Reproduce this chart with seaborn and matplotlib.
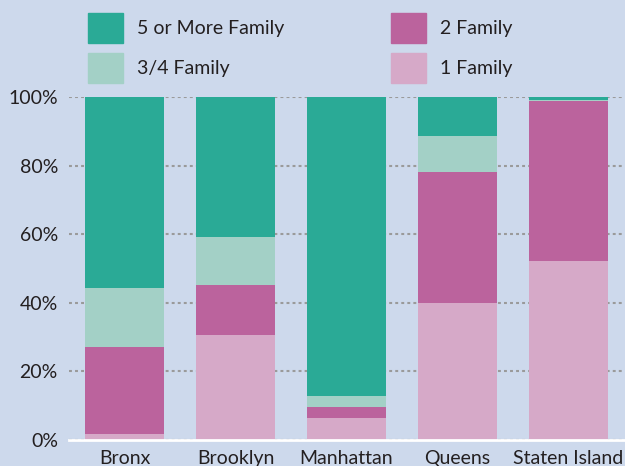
import pandas as pd
import seaborn as sns
import matplotlib.pyplot as plt
from matplotlib.patches import Patch

# Share of housing units by building type, per borough (%)
boroughs = ['Bronx', 'Brooklyn', 'Manhattan', 'Queens', 'Staten Island']
one_family = [1.8, 30.6, 6.4, 40.0, 52.2]
two_family = [25.3, 14.6, 3.2, 38.1, 46.5]
three_four_family = [17.2, 14.0, 3.2, 10.5, 0.3]
five_plus_family = [55.7, 40.8, 87.2, 11.4, 1.0]

series_names = ['1 Family', '2 Family', '3/4 Family', '5 or More Family']
colors = {'5 or More Family': '#2aaa96', '3/4 Family': '#a3d0c6',
          '2 Family': '#bb639d', '1 Family': '#d6a9c8'}

df = pd.DataFrame({'borough': boroughs, '1 Family': one_family,
                   '2 Family': two_family, '3/4 Family': three_four_family,
                   '5 or More Family': five_plus_family})

# cumulative tops so the stacks can be overlaid from tallest to shortest
cum = df[series_names].cumsum(axis=1)
cum['borough'] = df['borough']

bg = '#cdd9ec'
sns.set_style('white')
plt.rcParams['font.family'] = ['Lato', 'DejaVu Sans']

fig = plt.figure(figsize=(6.25, 4.66), dpi=100, facecolor=bg)
ax = fig.add_axes([69 / 625, 26 / 466, 555 / 625, 343 / 466])
ax.set_facecolor(bg)

for name in reversed(series_names):
    sns.barplot(data=cum, x='borough', y=name, color=colors[name],
                width=0.72, saturation=1, linewidth=0, edgecolor='none',
                ax=ax, zorder=3)

ax.set_xlim(-0.5, 4.5)
ax.set_ylim(0, 100)
ax.set_yticks(range(0, 101, 20))
ax.set_yticklabels([f'{v}%' for v in range(0, 101, 20)])
ax.set_xlabel('')
ax.set_ylabel('')
ax.tick_params(axis='both', length=0, labelsize=14, colors='#231f20')
ax.tick_params(axis='x', pad=7)
ax.tick_params(axis='y', pad=8)

ax.grid(axis='y', linestyle=(0, (1.4, 1.5)), color='#9a9a9a', linewidth=1.5, zorder=1)
for s in ['top', 'right', 'left']:
    ax.spines[s].set_visible(False)
ax.spines['bottom'].set_color('white')
ax.spines['bottom'].set_linewidth(2)
ax.spines['bottom'].set_zorder(4)

handles = [Patch(color=colors[n], label=n) for n in
           ['5 or More Family', '3/4 Family', '2 Family', '1 Family']]
fig.legend(handles=handles, ncol=2, loc='upper left',
           bbox_to_anchor=(88 / 625, 1 - 13 / 466), frameon=False,
           borderpad=0, borderaxespad=0,
           fontsize=14, handlelength=1.8, handleheight=2.0,
           handletextpad=0.72, labelspacing=0.52, columnspacing=5.5,
           labelcolor='#231f20')

fig.savefig('out.png', dpi=100, facecolor=bg)
